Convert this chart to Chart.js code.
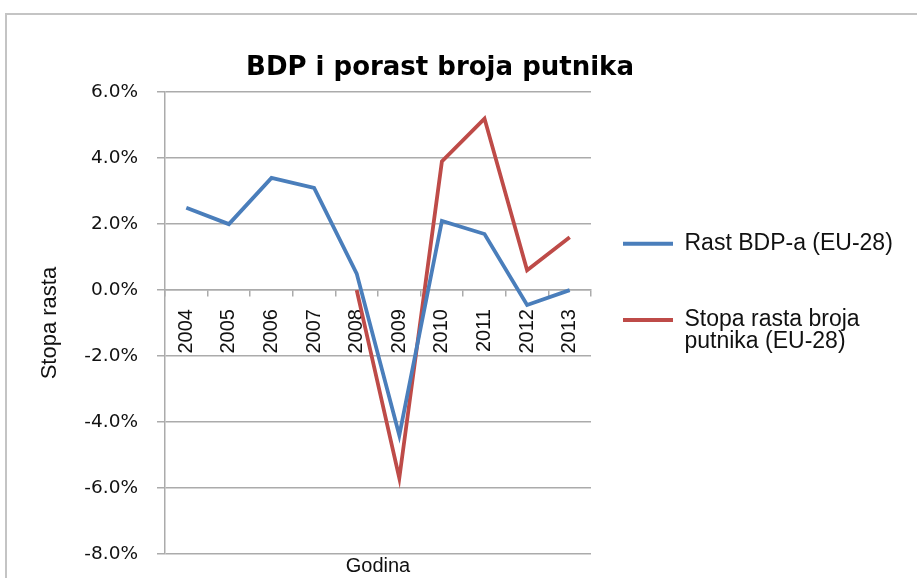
<!DOCTYPE html>
<html>
<head>
<meta charset="utf-8">
<script src="https://cdn.jsdelivr.net/npm/chart.js@4/dist/chart.umd.min.js"></script>
<style>
  html, body { margin: 0; padding: 0; width: 917px; height: 578px; overflow: hidden; background: #fff; }
  #frame { position: absolute; left: 5px; top: 13px; width: 1000px; height: 700px;
           border-top: 2px solid #c4c4c4; border-left: 2px solid #c4c4c4; }
  #c { position: absolute; left: -15px; top: 0px; }
</style>
</head>
<body>
<div id="frame"></div>
<canvas id="c" width="910" height="578"></canvas>
<script>
const years = ['2004','2005','2006','2007','2008','2009','2010','2011','2012','2013'];
const bdpGrowth = [2.5, 2.0, 3.4, 3.1, 0.5, -4.4, 2.1, 1.7, -0.45, 0.0];
const passengerGrowth = [null, null, null, null, 0.0, -5.7, 3.9, 5.2, 0.6, 1.6];
const seriesNames = ['Rast BDP-a (EU-28)', 'Stopa rasta broja putnika (EU-28)'];
const legendLines = [['Rast BDP-a (EU-28)', ''], ['Stopa rasta broja', 'putnika (EU-28)']];
const chartTitle = 'BDP i porast broja putnika';
const yTitle = 'Stopa rasta';
const xTitle = 'Godina';

const blue = '#4a7ebb';
const red = '#be4b48';
const gridGray = '#ababab';
const textColor = '#111';

new Chart(document.getElementById('c'), {
  type: 'line',
  data: {
    labels: years,
    datasets: [
      { label: seriesNames[0], data: bdpGrowth, borderColor: blue, backgroundColor: blue,
        borderWidth: 3.8, pointRadius: 0, tension: 0, xAxisID: 'x', yAxisID: 'y' },
      { label: seriesNames[1], data: passengerGrowth, borderColor: red, backgroundColor: red,
        borderWidth: 3.8, pointRadius: 0, tension: 0, spanGaps: false, xAxisID: 'x', yAxisID: 'y' }
    ]
  },
  options: {
    responsive: false,
    animation: false,
    devicePixelRatio: 1,
    color: textColor,
    layout: { padding: 0 },
    plugins: {
      tooltip: { enabled: false },
      title: {
        display: true,
        text: chartTitle,
        color: '#000',
        font: { family: 'DejaVu Sans', weight: 'bold', size: 26, lineHeight: 1.2 },
        padding: { top: 53, bottom: 8 }
      },
      legend: {
        position: 'right',
        align: 'center',
        maxWidth: 304,
        title: { display: true, text: '', color: textColor, padding: { top: 6, bottom: 0 }, font: { size: 1, lineHeight: 1 } },
        labels: {
          boxWidth: 50,
          boxHeight: 4,
          padding: 32,
          color: textColor,
          font: { family: 'Liberation Sans', size: 23, lineHeight: 0.96 },
          generateLabels: (chart) => chart.data.datasets.map((ds, i) => ({
            text: legendLines[i],
            fillStyle: ds.borderColor,
            strokeStyle: ds.borderColor,
            fontColor: textColor,
            lineWidth: 0,
            hidden: false,
            datasetIndex: i
          }))
        }
      }
    },
    scales: {
      x: {
        type: 'category',
        position: { y: 0 },
        offset: true,
        grid: { display: true, drawOnChartArea: false, drawTicks: true, tickLength: 6, color: gridGray, lineWidth: 1.5, offset: true },
        border: { display: true, color: gridGray, width: 1.5 },
        ticks: {
          autoSkip: false, minRotation: 90, maxRotation: 90, padding: 13,
          color: textColor, font: { family: 'Liberation Sans', size: 20 }
        }
      },
      x2: {
        type: 'category',
        position: 'bottom',
        grid: { display: false, drawTicks: false, tickLength: 0 },
        border: { display: false },
        ticks: { display: false },
        title: { display: true, text: xTitle, color: textColor, padding: 0,
                 font: { family: 'Liberation Sans', size: 20, lineHeight: 1.2 } }
      },
      y: {
        type: 'linear',
        position: 'left',
        min: -8, max: 6,
        afterFit: (scale) => { scale.width = 180; scale.paddingTop = 0; scale.paddingBottom = 0; },
        ticks: {
          stepSize: 2, padding: 19, color: textColor,
          font: { family: 'DejaVu Sans', size: 18.5 },
          callback: (v) => Number(v).toFixed(1) + '%'
        },
        grid: { color: gridGray, lineWidth: 1.5, tickLength: 8, drawTicks: true },
        border: { display: true, color: gridGray, width: 1.5 },
        title: { display: true, text: yTitle, color: textColor,
                 padding: { top: 52, bottom: 0 },
                 font: { family: 'Liberation Sans', size: 22, lineHeight: 1.2 } }
      }
    }
  }
});
</script>
</body>
</html>
